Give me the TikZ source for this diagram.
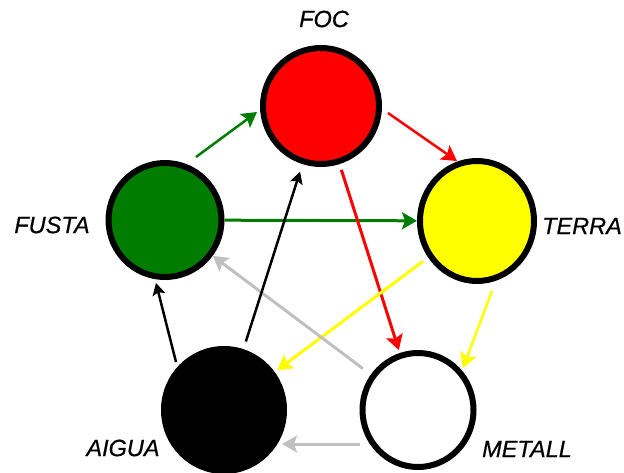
\documentclass[tikz,border=0pt]{standalone}
\usepackage{fontspec}
\setmainfont{Liberation Sans}
\newfontfamily\lblfont{Liberation Sans}[FakeBold=0.6]
\usetikzlibrary{shapes.geometric,arrows.meta}
\definecolor{wgreen}{HTML}{007C00}
\definecolor{wred}{HTML}{FF0000}
\definecolor{wyellow}{HTML}{FFFF00}
\definecolor{wgray}{HTML}{C0C0C0}
\tikzset{
  element/.style={ellipse, draw=black, line width=6pt, inner sep=0pt},
  elabel/.style={font=\lblfont\fontsize{23.5}{23.5}\selectfont\itshape, inner sep=0pt, anchor=center},
  bigarrow/.style={line width=3pt, -{Stealth[length=15pt,width=17pt,inset=3pt]}},
  smallarrow/.style={line width=2.5pt, -{Stealth[length=12pt,width=13pt,inset=2.5pt]}}
}
\begin{document}
\begin{tikzpicture}[x=1pt,y=-1pt]
\useasboundingbox (0,0) rectangle (624,472);

% the five elements
\node[element, fill=wred,    minimum width=116pt, minimum height=116pt] (foc)    at (321,106) {};
\node[element, fill=wgreen,  minimum width=113pt, minimum height=114pt] (fusta)  at (165,220) {};
\node[element, fill=wyellow, minimum width=114pt, minimum height=120pt] (terra)  at (477,221) {};
\node[element, fill=black,   minimum width=120pt, minimum height=122pt] (aigua)  at (224,410) {};
\node[element, fill=white,   minimum width=111pt, minimum height=114pt] (metall) at (418,410) {};

% names
\node[elabel] (lfoc)    at (324,19)  {FOC};
\node[elabel] (lfusta)  at (52,225)  {FUSTA};
\node[elabel] (lterra)  at (582,226) {TERRA};
\node[elabel] (laigua)  at (123,448) {AIGUA};
\node[elabel] (lmetall) at (527,449) {METALL};

% generating cycle
\draw[bigarrow, wgreen, line width=2.5pt] ([shift={(31,-63)}]fusta.center) -- ([shift={(-64,6)}]foc.center);
\draw[bigarrow, wred, line width=2.5pt] ([shift={(67,7)}]foc.center) -- ([shift={(-20,-60)}]terra.center);
\draw[bigarrow, wyellow, line width=2.5pt] ([shift={(15,70)}]terra.center) -- ([shift={(45,-42)}]metall.center);
\draw[bigarrow, wgray] ([shift={(-58,34)}]metall.center) -- ([shift={(58,34)}]aigua.center);
\draw[smallarrow, black] ([shift={(-48,-48)}]aigua.center) -- ([shift={(-9,63)}]fusta.center);

% controlling cycle
\draw[bigarrow, wgreen] (fusta) -- (terra);
\draw[bigarrow, wred, shorten <=6pt, shorten >=3pt] (foc) -- (metall);
\draw[bigarrow, wyellow, shorten <=6pt, shorten >=3pt] (terra) -- (aigua);
\draw[bigarrow, wgray, shorten <=10pt] (metall) -- (fusta);
\draw[smallarrow, black, shorten <=8pt, shorten >=8pt] (aigua) -- (foc);
\end{tikzpicture}
\end{document}
